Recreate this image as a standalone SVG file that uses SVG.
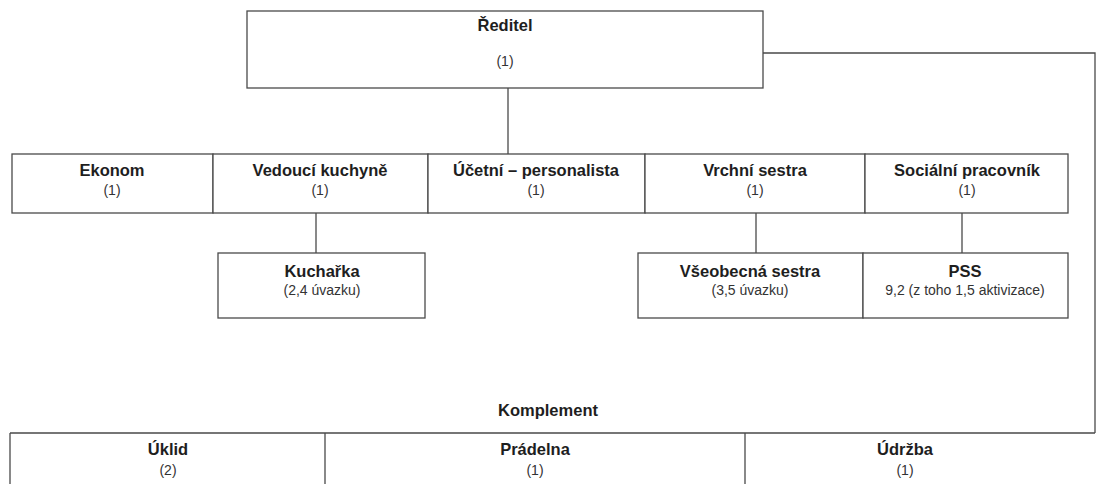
<svg xmlns="http://www.w3.org/2000/svg" width="1097" height="484" viewBox="0 0 1097 484">
<style>
.box{fill:#fff;stroke:#4a4a4a;stroke-width:1.3}
.ln{fill:none;stroke:#4a4a4a;stroke-width:1.3}
.t{font-family:"Liberation Sans",Arial,sans-serif;font-weight:bold;font-size:16.5px;fill:#1e1e1e;text-anchor:middle}
.s{font-family:"Liberation Sans",Arial,sans-serif;font-size:14px;fill:#333;text-anchor:middle}
</style>
<rect width="1097" height="484" fill="#fff"/>
<g id="connectors">
<path class="ln" d="M508 88V154"/>
<path class="ln" d="M763 53H1095V433"/>
<path class="ln" d="M316 213V253"/>
<path class="ln" d="M756 213V253"/>
<path class="ln" d="M962 213V253"/>
</g>
<g id="reditel">
<rect class="box" x="247" y="11" width="516" height="77"/>
<text class="t" x="505" y="31">Ředitel</text>
<text class="s" x="505" y="66">(1)</text>
</g>
<g id="ekonom">
<rect class="box" x="12" y="154" width="201" height="59"/>
<text class="t" x="112" y="176">Ekonom</text>
<text class="s" x="112" y="195">(1)</text>
</g>
<g id="vedouci-kuchyne">
<rect class="box" x="213" y="154" width="215" height="59"/>
<text class="t" x="320" y="176">Vedoucí kuchyně</text>
<text class="s" x="320" y="195">(1)</text>
</g>
<g id="ucetni">
<rect class="box" x="428" y="154" width="217" height="59"/>
<text class="t" x="536" y="176">Účetní – personalista</text>
<text class="s" x="536" y="195">(1)</text>
</g>
<g id="vrchni-sestra">
<rect class="box" x="645" y="154" width="220" height="59"/>
<text class="t" x="755" y="176">Vrchní sestra</text>
<text class="s" x="755" y="195">(1)</text>
</g>
<g id="socialni-pracovnik">
<rect class="box" x="865" y="154" width="203" height="59"/>
<text class="t" x="967" y="176">Sociální pracovník</text>
<text class="s" x="967" y="195">(1)</text>
</g>
<g id="kucharka">
<rect class="box" x="218" y="253" width="207" height="65"/>
<text class="t" x="322" y="277">Kuchařka</text>
<text class="s" x="322" y="295">(2,4 úvazku)</text>
</g>
<g id="vseobecna-sestra">
<rect class="box" x="638" y="253" width="225" height="65"/>
<text class="t" x="750" y="277">Všeobecná sestra</text>
<text class="s" x="750" y="295">(3,5 úvazku)</text>
</g>
<g id="pss">
<rect class="box" x="863" y="253" width="205" height="65"/>
<text class="t" x="965" y="277">PSS</text>
<text class="s" x="965" y="295">9,2 (z toho 1,5 aktivizace)</text>
</g>
<g id="komplement">
<text class="t" x="548" y="416">Komplement</text>
<path class="ln" d="M10 433H1095M10 433V484M325 433V484M745 433V484"/>
</g>
<g id="uklid">
<text class="t" x="168" y="455">Úklid</text>
<text class="s" x="168" y="475">(2)</text>
</g>
<g id="pradelna">
<text class="t" x="535" y="455">Prádelna</text>
<text class="s" x="535" y="475">(1)</text>
</g>
<g id="udrzba">
<text class="t" x="905" y="455">Údržba</text>
<text class="s" x="905" y="475">(1)</text>
</g>
</svg>
